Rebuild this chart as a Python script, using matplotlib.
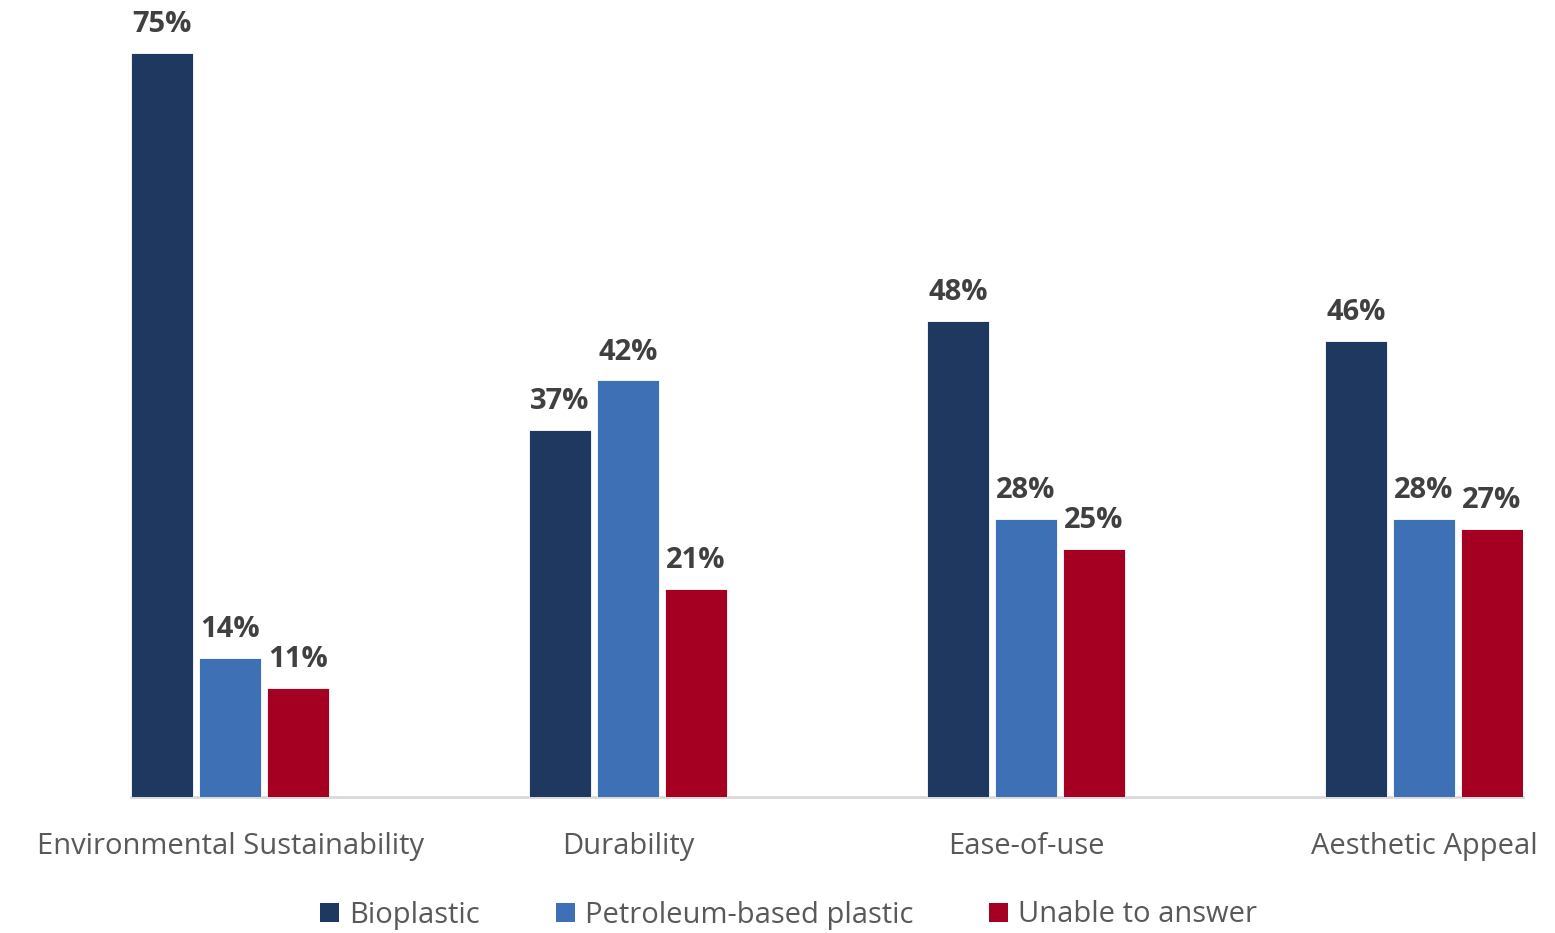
import matplotlib
matplotlib.use("Agg")
import matplotlib.pyplot as plt
import matplotlib.transforms as mtransforms
from matplotlib.patches import Patch
import numpy as np

categories = ["Environmental Sustainability", "Durability", "Ease-of-use", "Aesthetic Appeal"]
series_names = ["Bioplastic", "Petroleum-based plastic", "Unable to answer"]
bioplastic = [75, 37, 48, 46]
petroleum = [14, 42, 28, 28]
unable = [11, 21, 25, 27]
colors = ["#1F3860", "#3D70B4", "#A50021"]

plt.rcParams["font.family"] = ["Open Sans", "DejaVu Sans"]

W, H, DPI = 1555, 933, 100
fig = plt.figure(figsize=(W / DPI, H / DPI), dpi=DPI)

# axes box in pixels: left 131, right 1523, baseline at y=797 from top
left_px, right_px, base_px = 131, 1523, 797
ymax = 80
px_per_unit = 9.92
ax_h_px = ymax * px_per_unit
ax = fig.add_axes([left_px / W, (H - base_px) / H, (right_px - left_px) / W, ax_h_px / H])

x = np.arange(len(categories))
step = 0.171
width = 0.156
values = [bioplastic, petroleum, unable]
for i, (vals, col) in enumerate(zip(values, colors)):
    pos = x + (i - 1) * step
    ax.bar(pos, vals, width=width, color=col, edgecolor="white", linewidth=0.6, zorder=2)
    for xb, v in zip(pos, vals):
        ax.annotate(f"{v}%", (xb, v), xytext=(0, 15), textcoords="offset points",
                    ha="center", va="baseline", fontsize=21, fontweight="bold",
                    color="#404040", annotation_clip=False)

ax.set_xlim(-0.249, 3.249)
ax.set_ylim(0, ymax)
for s in ["top", "right", "left"]:
    ax.spines[s].set_visible(False)
ax.spines["bottom"].set_color("#D9D9D9")
ax.spines["bottom"].set_linewidth(2)
ax.spines["bottom"].set_zorder(1)
ax.set_yticks([])
ax.set_xticks([])

# category labels below the axis
trans = mtransforms.blended_transform_factory(ax.transData, fig.transFigure)
for xi, cat in zip(x, categories):
    ax.text(xi, (H - 854) / H, cat, transform=trans, ha="center", va="baseline",
            fontsize=21, color="#595959")

handles = [Patch(facecolor=c, edgecolor="none") for c in colors]
fig.legend(handles, series_names, loc="center", bbox_to_anchor=(788.5 / W, (H - 915) / H),
           ncol=3, frameon=False, fontsize=21, labelcolor="#595959",
           handlelength=0.65, handleheight=0.65, handletextpad=0.35, columnspacing=2.6)

fig.savefig("out.png", dpi=DPI, facecolor="white")
